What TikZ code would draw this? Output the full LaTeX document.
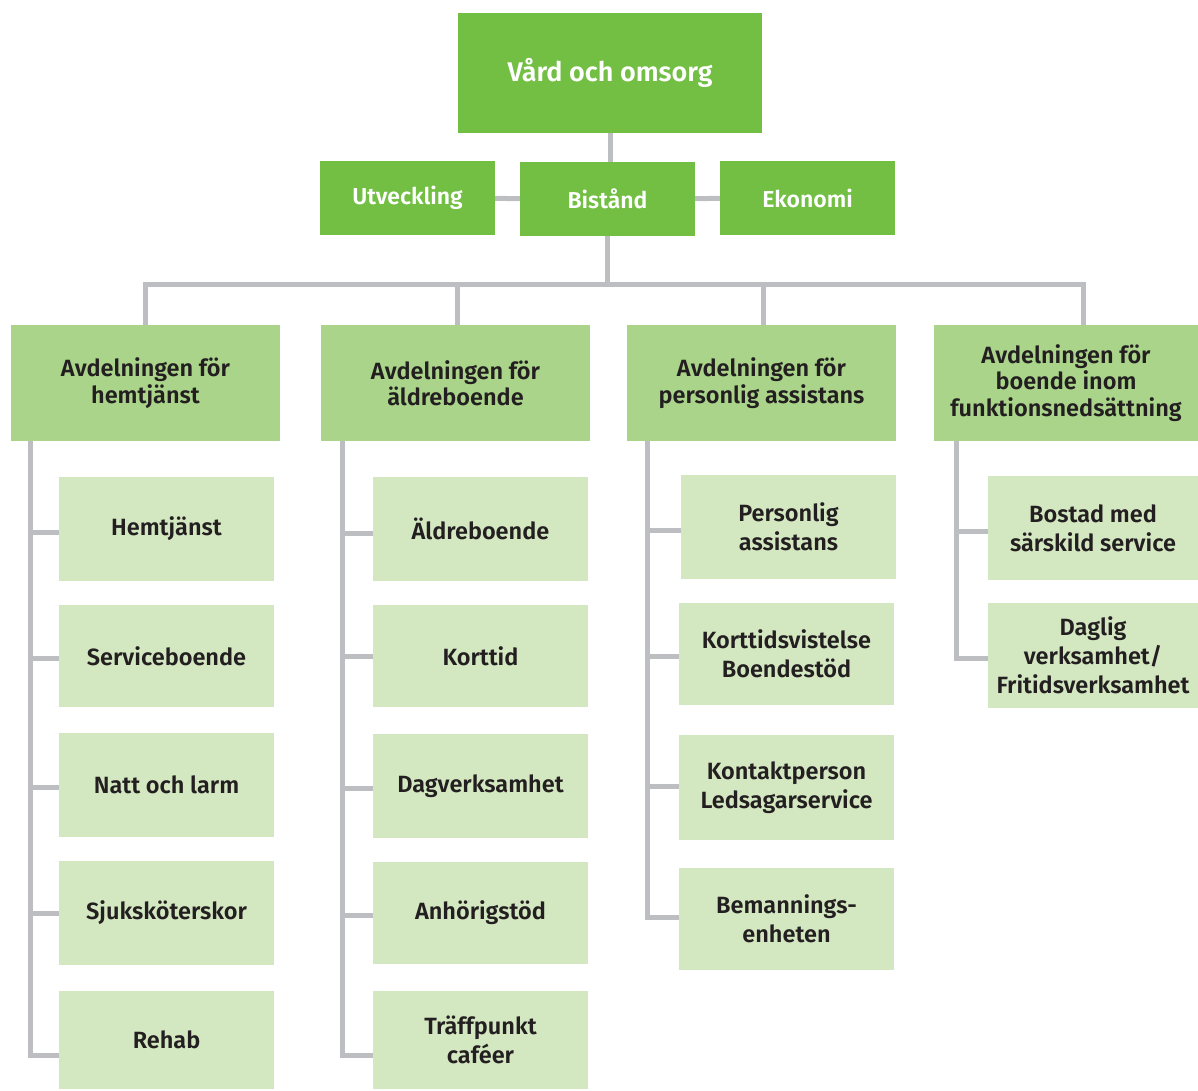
\documentclass[tikz,border=0pt]{standalone}
\usepackage{fontspec}
\setmainfont{Fira Sans}[BoldFont={Fira Sans SemiBold}]
\usepackage{xcolor}
\usepackage{tikz}
\usetikzlibrary{positioning,calc,backgrounds}

\definecolor{topgreen}{HTML}{72BF44}
\definecolor{deptgreen}{HTML}{A9D48A}
\definecolor{unitgreen}{HTML}{D3E7C1}
\definecolor{linegray}{HTML}{BDBEC2}
\definecolor{textdark}{HTML}{231F20}

\begin{document}
\begin{tikzpicture}[
    x=1pt, y=-1pt,
    topbox/.style={rectangle, fill=topgreen, inner sep=0pt, text=white, font=\fontsize{27}{32}\selectfont\bfseries, align=center},
    midbox/.style={rectangle, fill=topgreen, inner sep=0pt, minimum width=175pt, minimum height=74pt, text=white, font=\fontsize{23}{27}\selectfont\bfseries, align=center},
    deptbox/.style={rectangle, fill=deptgreen, inner sep=0pt, minimum height=116pt, text=textdark, font=\fontsize{23.5}{26.5}\selectfont\bfseries, align=center},
    unitbox/.style={rectangle, fill=unitgreen, inner sep=0pt, minimum width=215pt, text=textdark, font=\fontsize{23.5}{29}\selectfont\bfseries, align=center},
    conn/.style={draw=linegray, line width=5pt},
]
    \useasboundingbox (0,0) rectangle (1198,1090);

    % Top level
    \node[topbox, minimum width=304pt, minimum height=120pt] (vard) at (610,73) {Vård och omsorg};

    % Staff row
    \node[midbox] (utv) at (407.5,198) {Utveckling};
    \node[midbox] (bist) at (607.5,199) {Bistånd};
    \node[midbox] (eko) at (807.5,198) {Ekonomi};

    % Departments
    \node[deptbox, minimum width=269pt] (hem) at (145.5,383) {Avdelningen för\\hemtjänst};
    \node[deptbox, minimum width=269pt] (aldre) at (455.5,383) {Avdelningen för\\äldreboende};
    \node[deptbox, minimum width=269pt] (pers) at (761.5,383) {Avdelningen för\\personlig assistans};
    \node[deptbox, minimum width=264pt] (funk) at (1066,383) {Avdelningen för\\boende inom\\funktionsnedsättning};

    % Units - hemtjänst
    \node[unitbox, minimum height=104pt] (hem1) at (166.5,529) {Hemtjänst};
    \node[unitbox, minimum height=102pt] (hem2) at (166.5,656) {Serviceboende};
    \node[unitbox, minimum height=104pt] (hem3) at (166.5,785) {Natt och larm};
    \node[unitbox, minimum height=104pt] (hem4) at (166.5,913) {Sjuksköterskor};
    \node[unitbox, minimum height=98pt] (hem5) at (166.5,1040) {Rehab};

    % Units - äldreboende
    \node[unitbox, minimum height=104pt] (aldre1) at (480.5,529) {Äldreboende};
    \node[unitbox, minimum height=102pt] (aldre2) at (480.5,656) {Korttid};
    \node[unitbox, minimum height=104pt] (aldre3) at (480.5,786) {Dagverksamhet};
    \node[unitbox, minimum height=102pt] (aldre4) at (480.5,913) {Anhörigstöd};
    \node[unitbox, minimum height=98pt] (aldre5) at (480.5,1040) {Träffpunkt\\caféer};

    % Units - personlig assistans
    \node[unitbox, minimum height=104pt] (pers1) at (788.5,527) {Personlig\\assistans};
    \node[unitbox, minimum height=102pt] (pers2) at (786.5,654) {Korttidsvistelse\\Boendestöd};
    \node[unitbox, minimum height=105pt] (pers3) at (786.5,787.5) {Kontaktperson\\Ledsagarservice};
    \node[unitbox, minimum height=102pt] (pers4) at (786.5,919) {Bemannings-\\enheten};

    % Units - funktionsnedsättning
    \node[unitbox, minimum width=210pt, minimum height=104pt] (funk1) at (1093,528) {Bostad med\\särskild service};
    \node[unitbox, minimum width=210pt, minimum height=105pt] (funk2) at (1093,655.5) {Daglig\\verksamhet/\\Fritidsverksamhet};

    % Connectors
    \begin{scope}[on background layer]
        \coordinate (bus) at (0,284);
        \draw[conn] (vard.south -| 610,0) -- (bist.north -| 610,0);
        \draw[conn] (utv) -- (bist);
        \draw[conn] (bist) -- (eko);
        \draw[conn] (bist.south) -- (bist.south |- bus);
        \draw[conn] (hem.north) |- ([xshift=17pt]funk.north |- bus) -- ([xshift=17pt]funk.north);
        \draw[conn] ([xshift=1.5pt]aldre.north) -- ([xshift=1.5pt]aldre.north |- bus);
        \draw[conn] ([xshift=1.5pt]pers.north) -- ([xshift=1.5pt]pers.north |- bus);

        % department trunks and branches
        \draw[conn] ([yshift=-3pt]hem1.west) -| ([xshift=20pt]hem.south west);
        \draw[conn] ([yshift=-2pt]hem2.west) -| ([xshift=20pt]hem.south west);
        \draw[conn] ([yshift=-2pt]hem3.west) -| ([xshift=20pt]hem.south west);
        \draw[conn] (hem4.west) -| ([xshift=20pt]hem.south west);
        \draw[conn] ([yshift=-15pt]hem5.west) -| ([xshift=20pt]hem.south west);

        \draw[conn] ([yshift=-4pt]aldre1.west) -| ([xshift=22pt]aldre.south west);
        \draw[conn] (aldre2.west) -| ([xshift=22pt]aldre.south west);
        \draw[conn] ([yshift=-2pt]aldre3.west) -| ([xshift=22pt]aldre.south west);
        \draw[conn] ([yshift=-2pt]aldre4.west) -| ([xshift=22pt]aldre.south west);
        \draw[conn] ([yshift=-15pt]aldre5.west) -| ([xshift=22pt]aldre.south west);

        \draw[conn] ([yshift=-3pt]pers1.west) -| ([xshift=21pt]pers.south west);
        \draw[conn] ([yshift=-2pt]pers2.west) -| ([xshift=21pt]pers.south west);
        \draw[conn] ([yshift=1pt]pers3.west) -| ([xshift=21pt]pers.south west);
        \draw[conn] ([yshift=2pt]pers4.west) -| ([xshift=21pt]pers.south west);

        \draw[conn] ([yshift=-3pt]funk1.west) -| ([xshift=23pt]funk.south west);
        \draw[conn] ([yshift=-2.5pt]funk2.west) -| ([xshift=23pt]funk.south west);
    \end{scope}
\end{tikzpicture}
\end{document}
